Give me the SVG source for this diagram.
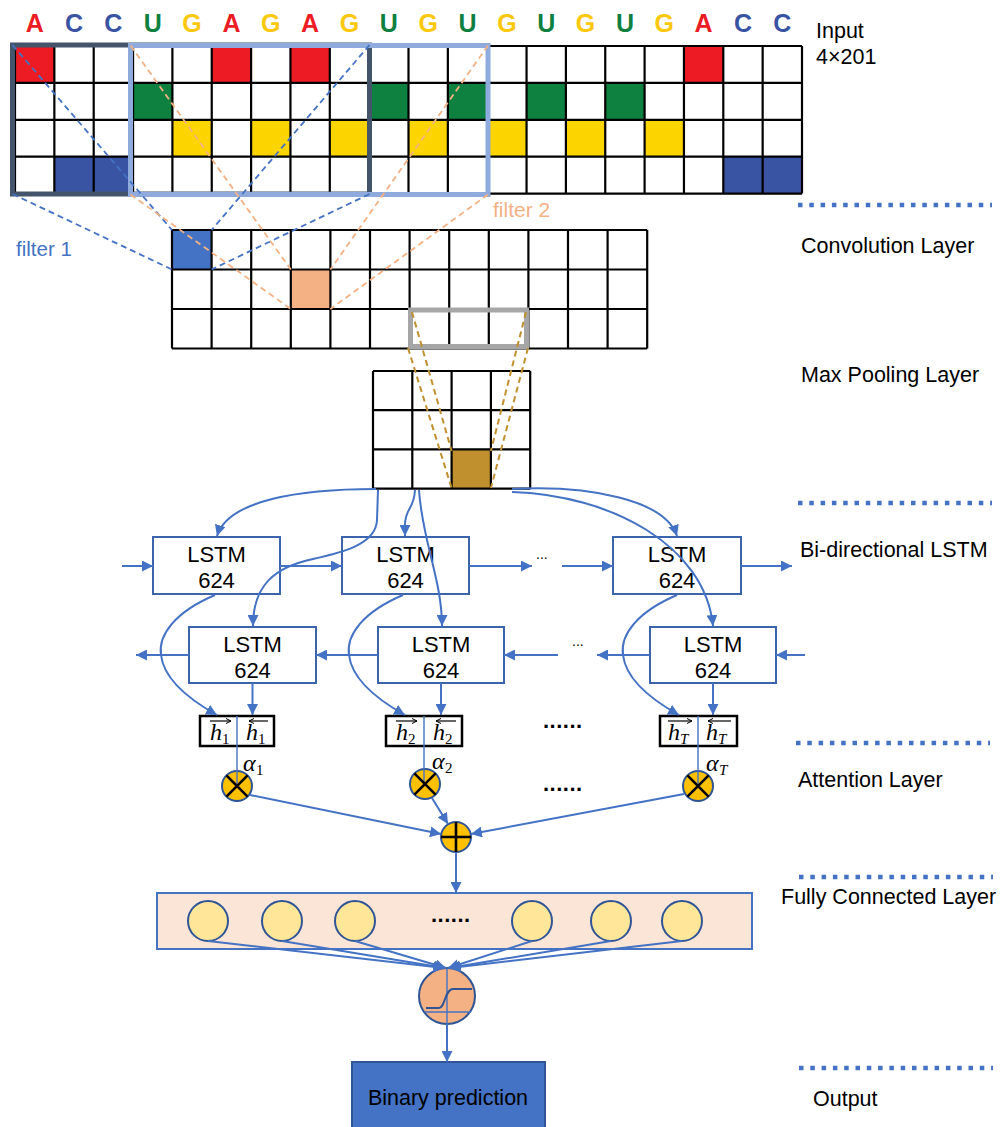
<svg xmlns="http://www.w3.org/2000/svg" width="1000" height="1127" viewBox="0 0 1000 1127">
  <style>
    .lbl { font-family: "Liberation Sans", Arial, sans-serif; font-size: 21.5px; fill: #000; }
    .nuc { font-family: "Liberation Sans", Arial, sans-serif; font-size: 25px; font-weight: bold; text-anchor: middle; }
    .grid { fill: none; stroke: #000; stroke-width: 2.2; }
    .cellA { fill: #ED1C24; }
    .cellU { fill: #0E8040; }
    .cellG { fill: #FCD500; }
    .cellC { fill: #3A54A4; }
    .f1 { stroke: #4472C4; stroke-width: 1.8; stroke-dasharray: 6 4; fill: none; }
    .f2 { stroke: #F4B183; stroke-width: 1.8; stroke-dasharray: 6 4; fill: none; }
    .fp { stroke: #C0902F; stroke-width: 2; stroke-dasharray: 6 4; fill: none; }
    .lstm { fill: #fff; stroke: #3B64AD; stroke-width: 2; }
    .lt { font-family: "Liberation Sans", Arial, sans-serif; font-size: 22px; text-anchor: middle; fill: #000; }
    .con { fill: none; stroke: #4472C4; stroke-width: 2; }
    .arr { marker-end: url(#ah); }
    .thin { fill: none; stroke: #4472C4; stroke-width: 1.4; }
    .hbox { fill: #fff; stroke: #000; stroke-width: 2.5; }
    .mh { font-family: "Liberation Serif", "Times New Roman", serif; font-style: italic; font-size: 24px; fill: #000; }
    .sub { font-family: "Liberation Serif", "Times New Roman", serif; font-size: 15px; fill: #000; }
    .subi { font-family: "Liberation Serif", "Times New Roman", serif; font-style: italic; font-size: 15px; fill: #000; }
    .vec { fill: none; stroke: #000; stroke-width: 1.2; }
    .op { fill: #FFC000; stroke: #2F5597; stroke-width: 2; }
    .opx { stroke: #000; stroke-width: 2.6; }
    .dots { font-family: "Liberation Sans", Arial, sans-serif; font-size: 22px; font-weight: bold; fill: #000; letter-spacing: 0.5px; }
    .sdots { font-family: "Liberation Sans", Arial, sans-serif; font-size: 14px; fill: #000; }
    .neuron { fill: #FFE699; stroke: #2F5597; stroke-width: 2; }
    .sep { stroke: #4472C4; stroke-width: 4.5; stroke-dasharray: 4.5 6.8; }
  </style>
  <defs>
    <marker id="ah" markerUnits="userSpaceOnUse" markerWidth="12" markerHeight="11" refX="11" refY="5.5" orient="auto">
      <path d="M0,0 L11,5.5 L0,11 z" fill="#4472C4"/>
    </marker>
    <marker id="vh" markerUnits="userSpaceOnUse" markerWidth="6" markerHeight="6" refX="5" refY="3" orient="auto">
      <path d="M0,0.5 L5,3 L0,5.5" fill="none" stroke="#000" stroke-width="1"/>
    </marker>
  </defs>

  <rect width="1000" height="1127" fill="#fff"/>

  <!-- one-hot encoded input sequence -->
  <g id="input">
    <g>
      <text class="nuc" x="34.7" y="32" fill="#ED1C24">A</text>
      <text class="nuc" x="74.05" y="32" fill="#3A54A4">C</text>
      <text class="nuc" x="113.4" y="32" fill="#3A54A4">C</text>
      <text class="nuc" x="152.75" y="32" fill="#0E8040">U</text>
      <text class="nuc" x="192.1" y="32" fill="#FCC80E">G</text>
      <text class="nuc" x="231.45" y="32" fill="#ED1C24">A</text>
      <text class="nuc" x="270.8" y="32" fill="#FCC80E">G</text>
      <text class="nuc" x="310.15" y="32" fill="#ED1C24">A</text>
      <text class="nuc" x="349.5" y="32" fill="#FCC80E">G</text>
      <text class="nuc" x="388.85" y="32" fill="#0E8040">U</text>
      <text class="nuc" x="428.2" y="32" fill="#FCC80E">G</text>
      <text class="nuc" x="467.55" y="32" fill="#0E8040">U</text>
      <text class="nuc" x="506.9" y="32" fill="#FCC80E">G</text>
      <text class="nuc" x="546.25" y="32" fill="#0E8040">U</text>
      <text class="nuc" x="585.6" y="32" fill="#FCC80E">G</text>
      <text class="nuc" x="624.95" y="32" fill="#0E8040">U</text>
      <text class="nuc" x="664.3" y="32" fill="#FCC80E">G</text>
      <text class="nuc" x="703.65" y="32" fill="#ED1C24">A</text>
      <text class="nuc" x="743" y="32" fill="#3A54A4">C</text>
      <text class="nuc" x="782.35" y="32" fill="#3A54A4">C</text>
    </g>
    <g>
      <rect class="cellA" x="15" y="46" width="39.35" height="36.9"/>
      <rect class="cellA" x="211.75" y="46" width="39.35" height="36.9"/>
      <rect class="cellA" x="290.45" y="46" width="39.35" height="36.9"/>
      <rect class="cellA" x="683.95" y="46" width="39.35" height="36.9"/>
      <rect class="cellU" x="133.05" y="82.9" width="39.35" height="36.9"/>
      <rect class="cellU" x="369.15" y="82.9" width="39.35" height="36.9"/>
      <rect class="cellU" x="447.85" y="82.9" width="39.35" height="36.9"/>
      <rect class="cellU" x="526.55" y="82.9" width="39.35" height="36.9"/>
      <rect class="cellU" x="605.25" y="82.9" width="39.35" height="36.9"/>
      <rect class="cellG" x="172.4" y="119.8" width="39.35" height="36.9"/>
      <rect class="cellG" x="251.1" y="119.8" width="39.35" height="36.9"/>
      <rect class="cellG" x="329.8" y="119.8" width="39.35" height="36.9"/>
      <rect class="cellG" x="408.5" y="119.8" width="39.35" height="36.9"/>
      <rect class="cellG" x="487.2" y="119.8" width="39.35" height="36.9"/>
      <rect class="cellG" x="565.9" y="119.8" width="39.35" height="36.9"/>
      <rect class="cellG" x="644.6" y="119.8" width="39.35" height="36.9"/>
      <rect class="cellC" x="54.35" y="156.7" width="39.35" height="36.9"/>
      <rect class="cellC" x="93.7" y="156.7" width="39.35" height="36.9"/>
      <rect class="cellC" x="723.3" y="156.7" width="39.35" height="36.9"/>
      <rect class="cellC" x="762.65" y="156.7" width="39.35" height="36.9"/>
    </g>
    <path class="grid" d="M15,46 H802 M15,82.9 H802 M15,119.8 H802 M15,156.7 H802 M15,193.6 H802
      M15,46 V193.6 M54.35,46 V193.6 M93.7,46 V193.6 M133.05,46 V193.6 M172.4,46 V193.6 M211.75,46 V193.6
      M251.1,46 V193.6 M290.45,46 V193.6 M329.8,46 V193.6 M369.15,46 V193.6 M408.5,46 V193.6 M447.85,46 V193.6
      M487.2,46 V193.6 M526.55,46 V193.6 M565.9,46 V193.6 M605.25,46 V193.6 M644.6,46 V193.6 M683.95,46 V193.6
      M723.3,46 V193.6 M762.65,46 V193.6 M802,46 V193.6"/>
    <!-- filter windows -->
    <rect x="12.5" y="45" width="357" height="149" fill="none" stroke="#44546A" stroke-width="5"/>
    <rect x="130.5" y="45.5" width="357.5" height="149" fill="none" stroke="#8FAADC" stroke-width="5"/>
    <line x1="369.5" y1="48" x2="369.5" y2="192" stroke="#44546A" stroke-width="5"/>
  </g>

  <!-- convolution feature map -->
  <g id="conv">
    <rect x="172" y="230" width="39.6" height="39.5" fill="#4472C4"/>
    <rect x="290.8" y="269.5" width="39.6" height="39.5" fill="#F4B183"/>
    <path class="grid" d="M172,230 H647.2 M172,269.5 H647.2 M172,309 H647.2 M172,348.5 H647.2
      M172,230 V348.5 M211.6,230 V348.5 M251.2,230 V348.5 M290.8,230 V348.5 M330.4,230 V348.5 M370,230 V348.5
      M409.6,230 V348.5 M449.2,230 V348.5 M488.8,230 V348.5 M528.4,230 V348.5 M568,230 V348.5 M607.6,230 V348.5 M647.2,230 V348.5"/>
    <rect x="410.5" y="310" width="116" height="36.5" fill="none" stroke="#A6A6A6" stroke-width="5"/>
  </g>

  <!-- max pooling output -->
  <g id="pool">
    <rect x="451.6" y="449.4" width="39.3" height="39.2" fill="#C0902F"/>
    <path class="grid" d="M373,371 H530.2 M373,410.2 H530.2 M373,449.4 H530.2 M373,488.6 H530.2
      M373,371 V488.6 M412.3,371 V488.6 M451.6,371 V488.6 M490.9,371 V488.6 M530.2,371 V488.6"/>
  </g>

  <!-- receptive-field guides -->
  <g id="filter-guides">
    <path class="f1" d="M12.5,45 L172,230 M369.5,45 L211.6,230 M12.5,194 L172,269.5 M369.5,194 L211.6,269.5"/>
    <path class="f2" d="M130.5,45.5 L290.8,269.5 M488,45.5 L330.4,269.5 M130.5,194.5 L290.8,309 M488,194.5 L330.4,309"/>
    <path class="fp" d="M412,312 L451.6,451 M408,348 L451.6,488 M526,312 L490.9,451 M528,348 L490.9,488"/>
    <text class="lbl" x="16" y="256" style="fill:#4472C4;font-size:20.5px">filter 1</text>
    <text class="lbl" x="493" y="217" style="fill:#F4B183;font-size:21px">filter 2</text>
  </g>

  <!-- forward LSTM cells -->
  <g id="lstm-f1"><rect class="lstm" x="153" y="537" width="127" height="57"/><text class="lt" x="216.5" y="562">LSTM</text><text class="lt" x="216.5" y="588">624</text></g>
  <g id="lstm-f2"><rect class="lstm" x="342" y="537" width="127" height="57"/><text class="lt" x="405.5" y="562">LSTM</text><text class="lt" x="405.5" y="588">624</text></g>
  <g id="lstm-f3"><rect class="lstm" x="613" y="537" width="128" height="57"/><text class="lt" x="677" y="562">LSTM</text><text class="lt" x="677" y="588">624</text></g>
  <!-- backward LSTM cells -->
  <g id="lstm-b1"><rect class="lstm" x="189" y="627" width="127" height="56"/><text class="lt" x="252.5" y="652">LSTM</text><text class="lt" x="252.5" y="678">624</text></g>
  <g id="lstm-b2"><rect class="lstm" x="378" y="627" width="126" height="56"/><text class="lt" x="441" y="652">LSTM</text><text class="lt" x="441" y="678">624</text></g>
  <g id="lstm-b3"><rect class="lstm" x="650" y="627" width="126" height="56"/><text class="lt" x="713" y="652">LSTM</text><text class="lt" x="713" y="678">624</text></g>

  <!-- hidden state pairs -->
  <g id="h1">
    <rect class="hbox" x="200" y="716" width="74" height="30"/>
    <path class="vec" d="M210,721 H231" marker-end="url(#vh)"/>
    <text class="mh" x="210" y="740">h</text><text class="sub" x="222" y="744">1</text>
    <path class="vec" d="M268,721 H249" marker-end="url(#vh)"/>
    <text class="mh" x="246" y="740">h</text><text class="sub" x="258" y="744">1</text>
  </g>
  <g id="h2">
    <rect class="hbox" x="386" y="716" width="76" height="30"/>
    <path class="vec" d="M396,721 H417" marker-end="url(#vh)"/>
    <text class="mh" x="396" y="740">h</text><text class="sub" x="408" y="744">2</text>
    <path class="vec" d="M456,721 H436" marker-end="url(#vh)"/>
    <text class="mh" x="433" y="740">h</text><text class="sub" x="445" y="744">2</text>
  </g>
  <g id="hT">
    <rect class="hbox" x="660" y="716" width="77" height="30"/>
    <path class="vec" d="M668,721 H692" marker-end="url(#vh)"/>
    <text class="mh" x="668" y="740">h</text><text class="subi" x="680" y="744">T</text>
    <path class="vec" d="M731,721 H708" marker-end="url(#vh)"/>
    <text class="mh" x="706" y="740">h</text><text class="subi" x="718" y="744">T</text>
  </g>

  <!-- attention weighting -->
  <g id="att1">
    <circle class="op" cx="237" cy="786" r="15"/>
    <path class="thin" d="M237,716 V786"/>
    <path class="opx" d="M226.4,775.4 L247.6,796.6 M247.6,775.4 L226.4,796.6"/>
    <text class="mh" x="243" y="771">α</text><text class="sub" x="256" y="775">1</text>
  </g>
  <g id="att2">
    <circle class="op" cx="425" cy="784" r="15"/>
    <path class="thin" d="M424,716 V784"/>
    <path class="opx" d="M414.4,773.4 L435.6,794.6 M435.6,773.4 L414.4,794.6"/>
    <text class="mh" x="432" y="769">α</text><text class="sub" x="445" y="773">2</text>
  </g>
  <g id="attT">
    <circle class="op" cx="698" cy="786" r="15"/>
    <path class="thin" d="M698,716 V786"/>
    <path class="opx" d="M687.4,775.4 L708.6,796.6 M708.6,775.4 L687.4,796.6"/>
    <text class="mh" x="706" y="771">α</text><text class="subi" x="719" y="775">T</text>
  </g>
  <g id="sum">
    <circle class="op" cx="456" cy="837" r="15"/>
    <path class="opx" d="M441,837 H471 M456,822 V852"/>
  </g>

  <!-- fully connected layer -->
  <g id="fc">
    <rect x="157" y="893" width="595" height="56" fill="#FBE5D6" stroke="#4472C4" stroke-width="2"/>
    <circle class="neuron" cx="208" cy="921" r="20"/>
    <circle class="neuron" cx="282" cy="921" r="20"/>
    <circle class="neuron" cx="355" cy="921" r="20"/>
    <circle class="neuron" cx="532" cy="921" r="20"/>
    <circle class="neuron" cx="611" cy="921" r="20"/>
    <circle class="neuron" cx="682" cy="921" r="20"/>
    <text class="dots" x="431" y="922">......</text>
  </g>

  <!-- sigmoid output unit -->
  <g id="sigmoid">
    <circle cx="447" cy="996" r="28" fill="#F4B183" stroke="#2F5597" stroke-width="2"/>
    <path class="thin" d="M447,968 V1024 M425,1012 H471" stroke-width="1.2"/>
    <path d="M426,1008 L439,1008 C445,1008 445,989 453,989 L472,989" fill="none" stroke="#2F5597" stroke-width="2"/>
  </g>

  <g id="output">
    <rect x="352" y="1062" width="193" height="70" fill="#4472C4" stroke="#2F5597" stroke-width="2"/>
    <text class="lt" x="448" y="1105" style="font-size:21.5px">Binary prediction</text>
  </g>

  <!-- connectors -->
  <g id="connectors">
    <!-- pooled features into the LSTMs -->
    <path class="con arr" d="M376,489 C300,489 228,500 217,536"/>
    <path class="con arr" d="M378,490 L377,520 C376,545 340,553 313,559 C275,567 253,585 253,626"/>
    <path class="con arr" d="M415,490 C414,510 405,508 405,525 L405,536"/>
    <path class="con arr" d="M419,490 C422,540 442,580 442,626"/>
    <path class="con arr" d="M512,489 C590,485 665,500 677,536"/>
    <path class="con arr" d="M512,492 C610,495 705,545 713,626"/>
    <!-- forward chain -->
    <path class="con arr" d="M122,566 H153"/>
    <path class="con arr" d="M280,566 H342"/>
    <path class="con arr" d="M469,566 H532"/>
    <path class="con arr" d="M562,566 H613"/>
    <path class="con arr" d="M741,566 H792"/>
    <!-- backward chain -->
    <path class="con arr" d="M189,655 H136"/>
    <path class="con arr" d="M378,655 H316"/>
    <path class="con arr" d="M558,655 H504"/>
    <path class="con arr" d="M650,655 H597"/>
    <path class="con arr" d="M805,655 H776"/>
    <!-- LSTM outputs to hidden states -->
    <path class="con arr" d="M215,595 C175,612 158,635 161,655 C164,680 190,700 217,715"/>
    <path class="con arr" d="M403,595 C363,612 346,635 349,655 C352,680 378,700 405,715"/>
    <path class="con arr" d="M677,595 C637,612 620,635 623,655 C626,680 652,700 679,715"/>
    <path class="con arr" d="M252.5,683 V715"/>
    <path class="con arr" d="M441,683 V715"/>
    <path class="con arr" d="M713,683 V715"/>
    <!-- weighted states into the sum -->
    <path class="con arr" d="M250,795 L441,834"/>
    <path class="con arr" d="M432,798 L448,824"/>
    <path class="con arr" d="M684,794 L471,834"/>
    <path class="con arr" d="M456,852 V893"/>
    <!-- dense units to the sigmoid -->
    <path class="con arr" d="M208,941 L444,968"/>
    <path class="con arr" d="M282,941 L445,968"/>
    <path class="con arr" d="M355,941 L446,968"/>
    <path class="con arr" d="M532,941 L448,968"/>
    <path class="con arr" d="M611,941 L449,968"/>
    <path class="con arr" d="M682,941 L450,968"/>
    <path class="con arr" d="M447,1024 V1062"/>
  </g>

  <!-- continuation marks -->
  <g id="ellipses">
    <text class="sdots" x="536" y="559">...</text>
    <text class="sdots" x="572" y="646">...</text>
    <text class="dots" x="543" y="728">......</text>
    <text class="dots" x="543" y="791">......</text>
  </g>

  <!-- layer captions -->
  <g id="captions">
    <line class="sep" x1="798" y1="205" x2="992" y2="205"/>
    <line class="sep" x1="798" y1="503" x2="992" y2="503"/>
    <line class="sep" x1="796" y1="743" x2="990" y2="743"/>
    <line class="sep" x1="799" y1="877" x2="993" y2="877"/>
    <line class="sep" x1="799" y1="1068" x2="993" y2="1068"/>
    <text class="lbl" x="816" y="38">Input</text>
    <text class="lbl" x="816" y="64">4×201</text>
    <text class="lbl" x="801" y="253">Convolution Layer</text>
    <text class="lbl" x="801" y="382">Max Pooling Layer</text>
    <text class="lbl" x="800" y="557">Bi-directional LSTM</text>
    <text class="lbl" x="798" y="787">Attention Layer</text>
    <text class="lbl" x="781" y="904">Fully Connected Layer</text>
    <text class="lbl" x="813" y="1106">Output</text>
  </g>
</svg>
